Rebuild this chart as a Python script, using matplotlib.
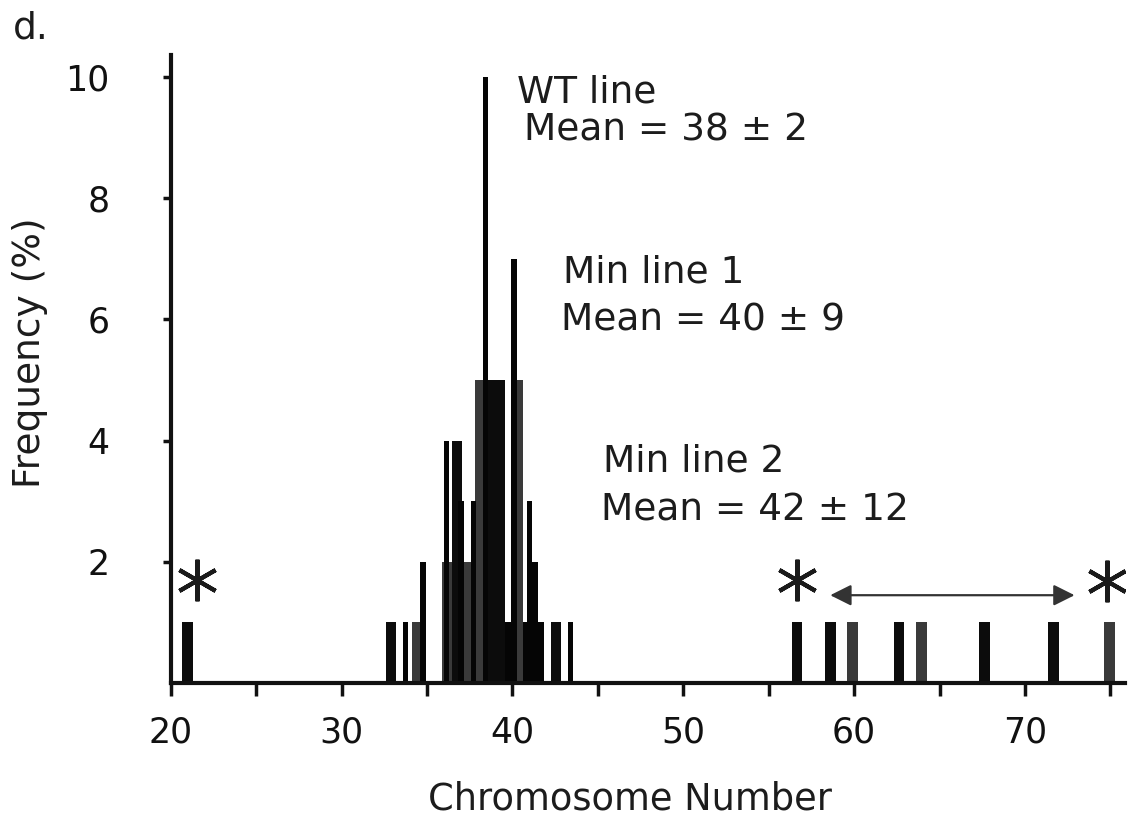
import matplotlib
matplotlib.use('Agg')
import matplotlib.pyplot as plt

plt.rcParams['font.family'] = ['DejaVu Sans']

# Bars: chromosome number (as placed on the axis) and frequency (%)
# thin black bars
thin_x = [33.74, 34.76, 36.15, 36.99, 37.73, 38.42, 39.75, 40.1, 40.75, 41.0, 41.32, 41.67, 43.4]
thin_y = [1, 2, 4, 3, 3, 10, 1, 7, 1, 3, 2, 1, 1]
# wide black bars
black_x = [20.97, 32.9, 36.75, 38.88, 39.25, 42.56, 56.65, 58.63, 62.63, 67.63, 71.67]
black_y = [1, 1, 4, 5, 5, 1, 1, 1, 1, 1, 1]
# wide dark grey (stippled) bars
grey_x = [34.42, 36.22, 37.35, 38.1, 40.28, 59.93, 63.95, 74.95]
grey_y = [1, 2, 2, 5, 5, 1, 1, 1]

star_x = [21.55, 56.65, 74.8]
star_y = [1.7, 1.7, 1.68]

labels = ['WT line', 'Mean = 38 \u00b1 2', 'Min line 1', 'Mean = 40 \u00b1 9',
          'Min line 2', 'Mean = 42 \u00b1 12']
label_x = [40.25, 40.7, 42.95, 42.84, 45.3, 45.18]
label_y = [9.75, 9.12, 6.78, 5.99, 3.65, 2.85]

fig = plt.figure(figsize=(11.32, 8.25), dpi=100)
ax = fig.add_axes([0.1508, 0.172, 0.843, 0.7612])

ax.bar(grey_x, grey_y, width=0.64, color='#3a3a3a', linewidth=0)
ax.bar(black_x, black_y, width=0.62, color='#0c0c0c', linewidth=0)
ax.bar(thin_x, thin_y, width=0.32, color='#050505', linewidth=0)

ax.plot(star_x, star_y, linestyle='none', marker=(6, 2, 0), markersize=30,
        markeredgewidth=3, color='#1a1a1a')

ax.annotate('', xy=(72.9, 1.45), xytext=(58.6, 1.45),
            arrowprops=dict(arrowstyle='<|-|>', mutation_scale=32, lw=1.6,
                            color='#333333', shrinkA=0, shrinkB=0))

for t, x, y in zip(labels, label_x, label_y):
    ax.text(x, y, t, fontsize=27, color='#1c1c1c', va='center', ha='left')

ax.set_xlim(20, 75.85)
ax.set_ylim(0, 10.36)
ax.set_xticks([20, 30, 40, 50, 60, 70])
ax.set_xticks([25, 35, 45, 55, 65, 75], minor=True)
ax.set_yticks([2, 4, 6, 8, 10])

for s in ['top', 'right']:
    ax.spines[s].set_visible(False)
for s in ['left', 'bottom']:
    ax.spines[s].set_linewidth(3)
    ax.spines[s].set_color('#111111')

ax.tick_params(axis='x', which='both', direction='out', length=9, width=2.5,
               labelsize=25, pad=14, colors='#111111')
ax.tick_params(axis='y', direction='out', length=6, width=2.5, labelsize=25,
               pad=38, colors='#111111')

ax.set_xlabel('Chromosome Number', fontsize=26.5, color='#1c1c1c')
ax.set_ylabel('Frequency (%)', fontsize=27, color='#1c1c1c')
ax.xaxis.set_label_coords(0.481, -0.185)
ax.yaxis.set_label_coords(-0.1475, 0.526)
ax.xaxis.label.set_va('center')
ax.yaxis.label.set_va('center')

fig.text(0.011, 0.965, 'd.', fontsize=27, color='#1c1c1c', va='center')

plt.savefig('out.png', dpi=100)
